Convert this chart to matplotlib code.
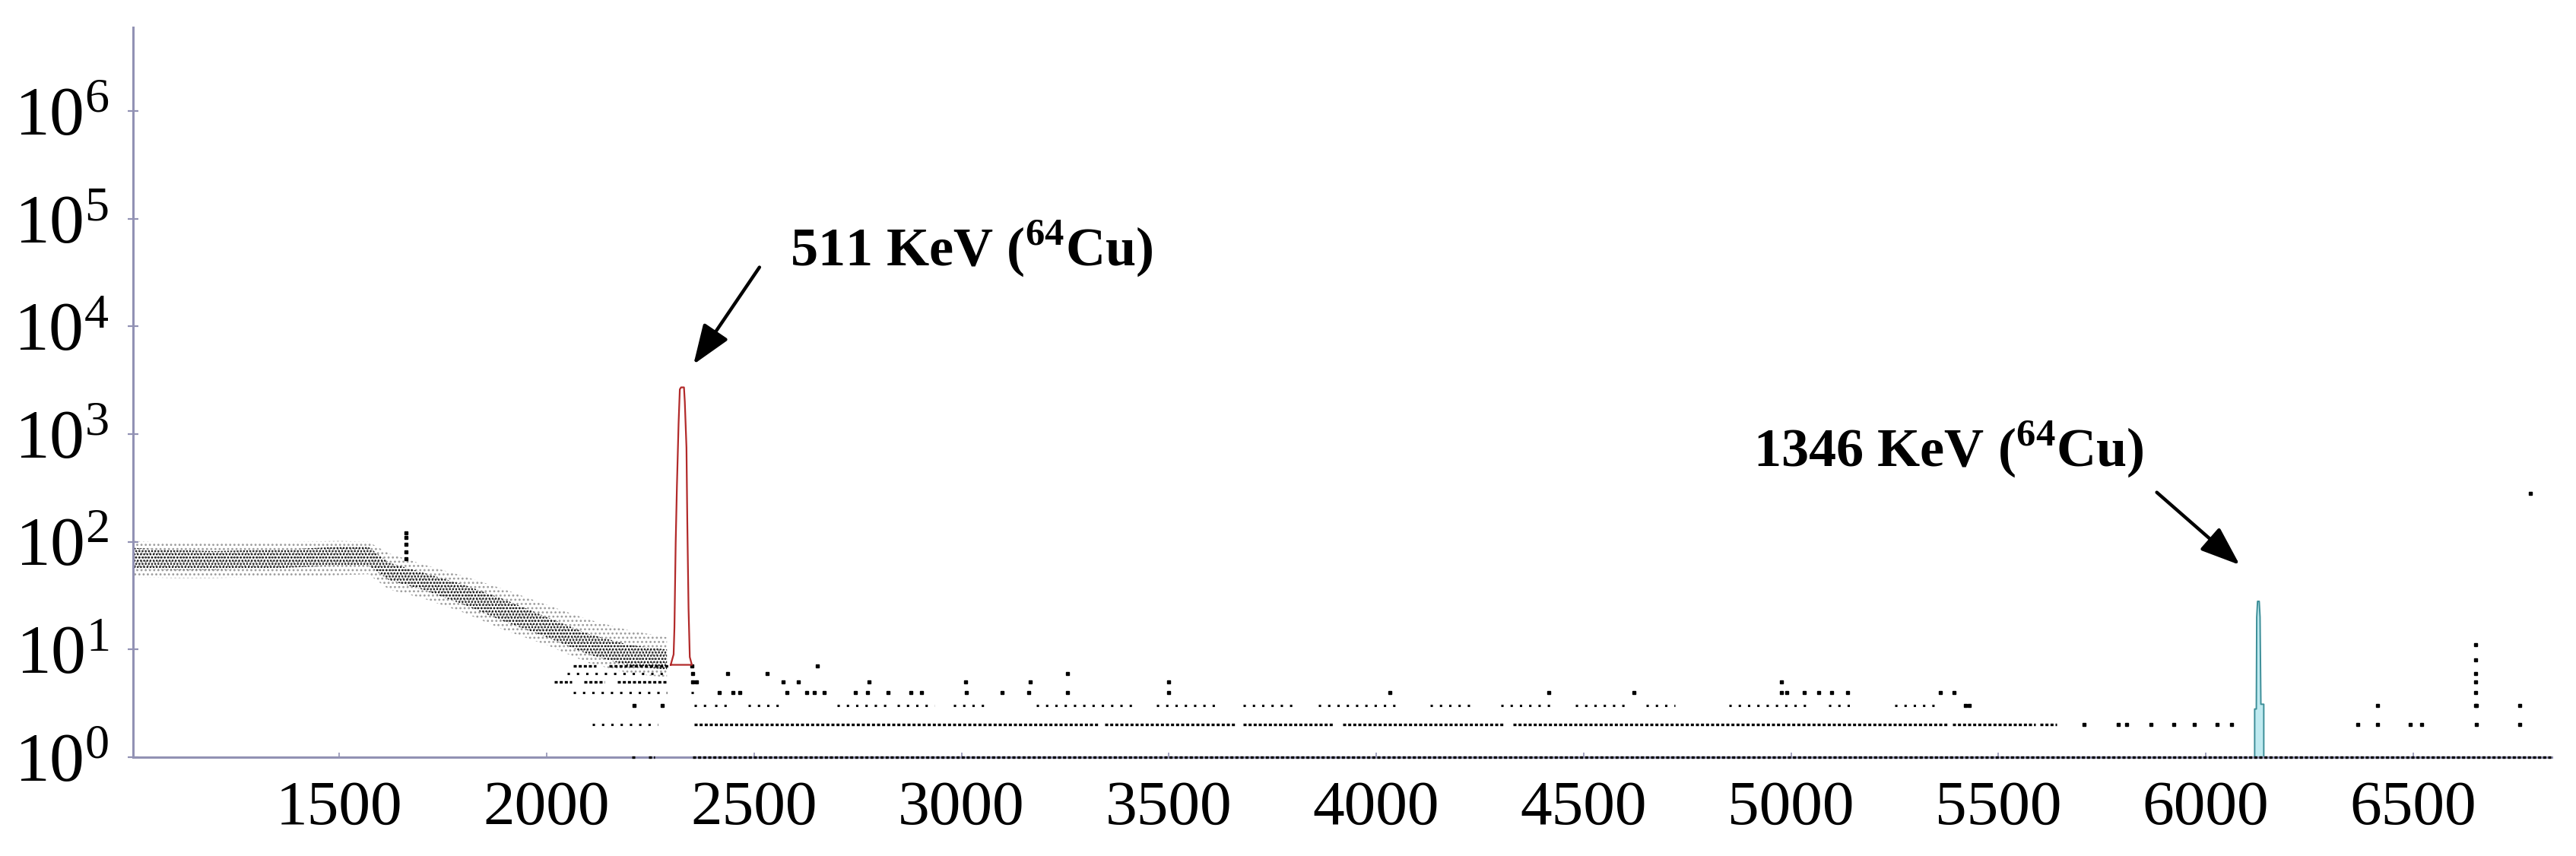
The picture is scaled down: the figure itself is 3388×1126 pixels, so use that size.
import matplotlib
matplotlib.use("Agg")
import matplotlib.pyplot as plt
import numpy as np

plt.rcParams['font.family'] = ['Liberation Serif', 'DejaVu Serif']
plt.rcParams['mathtext.fontset'] = 'custom'
plt.rcParams['mathtext.rm'] = 'Liberation Serif'
plt.rcParams['mathtext.bf'] = 'Liberation Serif:bold'
plt.rcParams['hatch.linewidth'] = 1.2

AXIS_COL = '#9292b4'

# continuum band (channel, counts)
band_e  = [1000, 1100, 1200, 1300, 1400, 1500, 1570, 1620, 1700, 1800, 1900, 2000, 2100, 2200, 2290]
band_hi = [102, 98, 96, 98, 100, 102, 100, 78, 62, 48, 36, 26, 19, 15, 13]
band_lo = [47, 46, 46, 47, 48, 49, 50, 36, 30, 22, 15, 11, 7.5, 6, 5.5]
core_hi = [88, 84, 82, 84, 86, 90, 90, 64, 52, 40, 29, 20, 14, 11, 10]
core_lo = [56, 55, 55, 56, 58, 60, 60, 44, 36, 26, 18, 13, 9, 7, 6.5]

# 511 keV peak outline
red_e = [2299, 2306, 2308, 2311, 2314, 2318, 2321, 2324, 2331, 2333, 2337, 2339, 2342, 2345, 2350, 2299]
red_c = [7.2, 9, 16, 98, 330, 1260, 2610, 2720, 2720, 2000, 750, 155, 24, 8.5, 7.2, 7.2]

# 1346 keV peak outline
cyan_e = [6118, 6118, 6122, 6123, 6125, 6129, 6131, 6133, 6140, 6140]
cyan_c = [1, 2.8, 2.8, 20, 28, 28, 20, 3.1, 3.1, 1]

# low count rows: (count, start, end) runs of nearly continuous dots
dense_runs = [
    (1, 2205, 2215), (1, 2245, 2260), (1, 2352, 6835),
    (2, 2355, 3330), (2, 3345, 3660), (2, 3680, 3900), (2, 3920, 4310),
    (2, 4330, 5380), (2, 5390, 5590), (2, 5600, 5640),
    (5, 2018, 2060), (5, 2090, 2140), (5, 2170, 2290),
    (7, 2064, 2120), (7, 2150, 2295),
]
sparse_runs = [
    (3, 2355, 2390), (3, 2405, 2450), (3, 2485, 2560), (3, 2700, 2825),
    (3, 2845, 2935), (3, 2980, 3060), (3, 3180, 3420), (3, 3470, 3620),
    (3, 3680, 3800), (3, 3860, 4050), (3, 4130, 4240), (3, 4300, 4420),
    (3, 4480, 4600), (3, 4650, 4720), (3, 4850, 5050), (3, 5090, 5150),
    (3, 5250, 5350), (4, 2064, 2290), (4, 2349, 2370), (2, 2110, 2268),
    (6, 2050, 2295),
]

# isolated dots (channel, counts)
dot_e = [5706, 5790, 5810, 5868, 5923, 5972, 6027, 6062, 6366, 6415, 6493, 6520, 6652, 6757,
         5420, 5430, 6415, 6652, 6757, 2211, 2278,
         2416, 2449, 2466, 2580, 2627, 2645, 2669, 2745, 2774, 2823, 2878, 2904, 3012,
         3098, 3162, 3256, 3500, 4033, 4416, 4621, 4977, 4990, 5032, 5067, 5098, 5137, 5360, 5393,
         2352, 2361, 2570, 2607, 2777, 3010, 3166, 3500, 4977,
         2352, 2437, 2532, 3256, 2350, 2653,
         6650, 6650, 6650, 6650, 6650, 6650,
         1661, 1661, 1661, 1661, 1661, 6782]
dot_c = [2, 2, 2, 2, 2, 2, 2, 2, 2, 2, 2, 2, 2, 2,
         3, 3, 3, 3, 3, 3, 3,
         4, 4, 4, 4, 4, 4, 4, 4, 4, 4, 4, 4, 4,
         4, 4, 4, 4, 4, 4, 4, 4, 4, 4, 4, 4, 4, 4, 4,
         5, 5, 5, 5, 5, 5, 5, 5, 5,
         6, 6, 6, 6, 7, 7,
         3, 4, 5, 6, 8, 11,
         70, 80, 95, 110, 120, 280]

x_ticks = [1500, 2000, 2500, 3000, 3500, 4000, 4500, 5000, 5500, 6000, 6500]
y_ticks = [1, 10, 100, 1e3, 1e4, 1e5, 1e6]

ARROW = dict(arrowstyle='-|>,head_length=1.6,head_width=0.6', color='black',
             linewidth=3.2, shrinkA=0, shrinkB=0, mutation_scale=20)


def draw_spectrum():
    fig = plt.figure(figsize=(33.88, 11.26), dpi=100)
    ax = fig.add_axes([0.0517, 0.1155, 0.939, 0.8525])
    ax.set_yscale('log')
    ax.set_xlim(1003, 6835)
    ax.set_ylim(1, 6.0e6)

    # continuum as dotted bands
    ax.fill_between(band_e, band_lo, band_hi, facecolor='none', edgecolor='#9c9c9c',
                    hatch='...', linewidth=0)
    ax.fill_between(band_e, core_lo, core_hi, facecolor='none', edgecolor='black',
                    hatch='....', linewidth=0)

    for c, a, b in dense_runs:
        ax.hlines(c, a, b, colors='black', linewidth=2.4, linestyles=(0, (1.2, 0.8)),
                  clip_on=False, zorder=3)
    for c, a, b in sparse_runs:
        ax.hlines(c, a, b, colors='black', linewidth=2.2, linestyles=(0, (1, 3)))
    ax.plot(dot_e, dot_c, 's', color='black', markersize=2.4, linestyle='none')

    ax.plot(red_e, red_c, color='#b22a2a', linewidth=1.6)
    ax.fill_between(cyan_e, 1, cyan_c, facecolor='#bfeaf0', edgecolor='none')
    ax.plot(cyan_e, cyan_c, color='#3c8e98', linewidth=1.4, clip_on=False)

    ax.text(2587, 10**4.565, r'511 KeV ($^{\mathbf{64}}$Cu)', fontsize=52,
            fontweight='bold', ha='left', va='baseline')
    ax.text(4909, 10**2.70, r'1346 KeV ($^{\mathbf{64}}$Cu)', fontsize=52,
            fontweight='bold', ha='left', va='baseline')
    ax.annotate('', xy=(2354, 4450), xytext=(2513, 35500), arrowprops=ARROW)
    ax.annotate('', xy=(6082, 61), xytext=(5882, 288), arrowprops=ARROW)

    ax.set_xticks(x_ticks)
    ax.set_xticklabels([str(t) for t in x_ticks])
    ax.set_yticks(y_ticks)
    ax.set_yticklabels([r'$\mathdefault{10^{%d}}$' % int(np.log10(t)) for t in y_ticks])
    ax.yaxis.set_minor_locator(matplotlib.ticker.NullLocator())

    for s in ['top', 'right']:
        ax.spines[s].set_visible(False)
    for s in ['left', 'bottom']:
        ax.spines[s].set_color(AXIS_COL)
        ax.spines[s].set_linewidth(2.2)
    ax.tick_params(axis='y', direction='inout', length=10, width=1.6, color=AXIS_COL,
                   labelsize=66, pad=18)
    ax.tick_params(axis='x', direction='in', length=4, width=1.2, color=AXIS_COL,
                   labelsize=60, pad=22)

    fig.savefig('out.png', dpi=100)


if (__name__ == '__main__'):
    draw_spectrum()
